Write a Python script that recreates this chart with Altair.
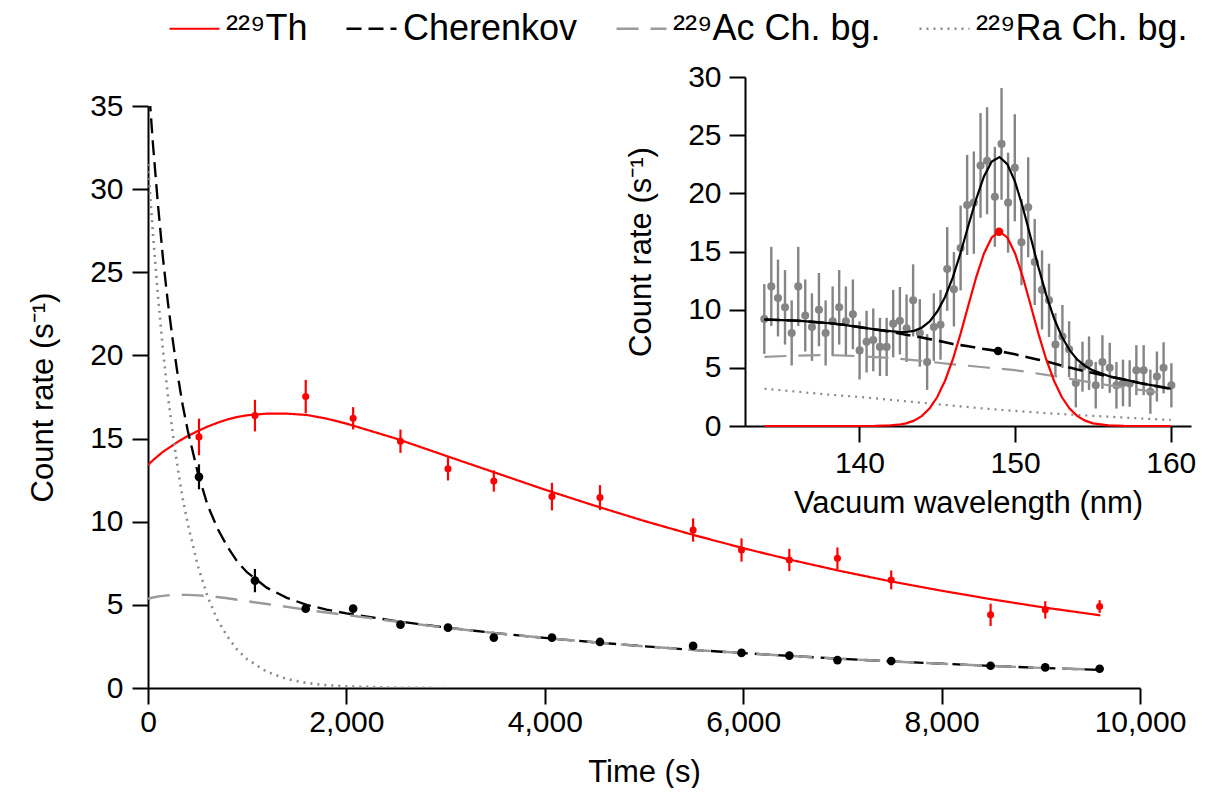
import altair as alt
import pandas as pd

# ---------------- main panel: fitted curves ----------------
T_CURVE = [0, 50, 100, 150, 200, 250, 300, 350, 400, 500, 600, 700, 800, 900, 1000,
           1200, 1400, 1600, 1800, 2000, 2500, 3000, 3500, 4000, 4500, 5000, 5500,
           6000, 6500, 7000, 7500, 8000, 8500, 9000, 9600]
TH_FIT = [13.4, 13.7, 13.95, 14.2, 14.4, 14.6, 14.8, 14.98, 15.15, 15.45, 15.72, 15.95,
          16.15, 16.3, 16.4, 16.5, 16.5, 16.42, 16.2, 15.9, 15.0, 13.97, 12.95, 11.93,
          10.97, 10.05, 9.2, 8.41, 7.68, 7.01, 6.4, 5.85, 5.34, 4.87, 4.37]
CH_FIT = [36.9, 32.7, 29.1, 25.9, 23.2, 20.9, 18.8, 17.0, 15.5, 13.0, 11.0, 9.6, 8.5,
          7.6, 6.95, 6.02, 5.42, 5.0, 4.71, 4.49, 4.02, 3.64, 3.3, 3.01, 2.75, 2.51, 2.29,
          2.1, 1.92, 1.75, 1.6, 1.46, 1.33, 1.21, 1.09]
AC_FIT = [5.37, 5.44, 5.5, 5.54, 5.57, 5.59, 5.6, 5.6, 5.6, 5.57, 5.53, 5.47, 5.4, 5.31,
          5.22, 5.05, 4.88, 4.7, 4.54, 4.39, 4.0, 3.63, 3.3, 3.01, 2.75, 2.51, 2.29, 2.1,
          1.92, 1.75, 1.6, 1.46, 1.33, 1.21, 1.09]
T_RA = [0, 50, 100, 150, 200, 250, 300, 350, 400, 500, 600, 700, 800, 900, 1000, 1200,
        1400, 1600, 1800, 2000, 2500, 3000]
RA_FIT = [31.5, 27.3, 23.6, 20.4, 17.6, 15.3, 13.2, 11.4, 9.9, 7.4, 5.5, 4.1, 3.1, 2.3,
          1.73, 0.97, 0.54, 0.3, 0.17, 0.1, 0.02, 0.0]

# ---------------- main panel: measured points ----------------
T_PTS = [514, 1078, 1590, 2068, 2545, 3024, 3486, 4072, 4556, 5495, 5983, 6465, 6950,
         7492, 8494, 9045, 9593]
TH_PTS = [15.1, 16.38, 17.53, 16.22, 14.84, 13.18, 12.45, 11.51, 11.45, 9.5, 8.3, 7.7,
          7.8, 6.5, 4.4, 4.7, 4.9]
TH_ERR = [1.1, 0.95, 1.0, 0.67, 0.7, 0.7, 0.64, 0.83, 0.75, 0.7, 0.7, 0.67, 0.65, 0.57,
          0.67, 0.52, 0.38]
CH_PTS = [12.7, 6.46, 4.77, 4.77, 3.81, 3.63, 3.03, 3.03, 2.77, 2.53, 2.11, 1.95, 1.68,
          1.62, 1.34, 1.24, 1.16]
CH_ERR = [0.75, 0.7, 0.15, 0.15, 0.15, 0.15, 0.12, 0.12, 0.12, 0.12, 0.1, 0.1, 0.1, 0.1,
          0.1, 0.1, 0.1]

SERIES = ["²²⁹Th", "Cherenkov", "²²⁹Ac Ch. bg.", "²²⁹Ra Ch. bg."]
COLORS = ["#ff0000", "#000000", "#9a9a9a", "#8a8a8a"]
DASHES = [[1, 0], [15, 7], [22, 12], [2, 5]]
WIDTHS = [2.2, 2.6, 2.2, 2.2]
X_TICKS = [0, 2000, 4000, 6000, 8000, 10000]
Y_TICKS = [0, 5, 10, 15, 20, 25, 30, 35]

# ---------------- inset: spectrum ----------------
W_PTS = [133.89, 134.34, 134.77, 135.22, 135.65, 136.07, 136.52, 136.95, 137.40, 137.83,
         138.28, 138.70, 139.13, 139.58, 140.01, 140.46, 140.89, 141.32, 141.75, 142.17,
         142.60, 143.03, 143.45, 143.88, 144.35, 144.78, 145.21, 145.64, 146.07, 146.50,
         146.92, 147.35, 147.78, 148.20, 148.70, 149.13, 149.55, 149.98, 150.41, 150.84,
         151.26, 151.73, 152.18, 152.59, 153.04, 153.47, 153.90, 154.33, 154.75, 155.18,
         155.61, 156.08, 156.51, 156.93, 157.36, 157.79, 158.26, 158.69, 159.11, 159.54,
         160.04]
S_PTS = [9.2, 12.0, 11.0, 10.2, 8.0, 12.0, 9.5, 8.5, 10.0, 8.0,
         9.0, 10.2, 9.0, 9.6, 6.5, 7.25, 7.4, 6.8, 6.8, 8.8,
         9.05, 8.4, 10.8, 8.0, 5.5, 8.5, 8.7, 13.5, 11.75, 15.3,
         19.0, 19.2, 22.4, 22.8, 19.7, 24.25, 19.2, 22.2, 15.8, 18.8,
         14.1, 11.7, 10.8, 7.0, 7.7, 6.6, 3.7, 5.1, 5.4, 3.5,
         5.5, 5.0, 3.5, 3.7, 3.65, 4.8, 4.8, 2.95, 4.25, 5.0, 3.5]
S_ERR = [3.0, 3.4, 3.3, 3.2, 2.8, 3.4, 3.1, 2.9, 3.15, 2.8,
         3.0, 3.2, 3.0, 3.0, 2.5, 2.65, 2.7, 2.5, 2.5, 2.9,
         2.9, 2.9, 3.1, 2.9, 2.4, 2.9, 3.0, 3.6, 3.2, 3.65,
         4.3, 4.4, 4.5, 4.6, 4.3, 4.8, 4.3, 4.6, 3.7, 4.3,
         3.7, 3.4, 3.15, 2.7, 2.7, 2.4, 2.1, 2.15, 2.3, 2.0,
         2.3, 2.15, 2.0, 2.0, 2.0, 2.15, 2.15, 1.9, 2.15, 2.2, 1.9]

W_FIT = [133.9, 135, 136, 137, 138, 139, 140, 141, 142, 142.5, 143, 143.5, 144, 144.5,
         145, 145.5, 146, 146.5, 147, 147.5, 148, 148.5, 149, 149.5, 150, 150.5, 151,
         151.5, 152, 152.5, 153, 153.5, 154, 154.5, 155, 156, 157, 158, 159, 160]
TH_LINE = [0, 0, 0, 0, 0, 0, 0, 0.01, 0.05, 0.11, 0.23, 0.46, 0.85, 1.5, 2.49, 3.89,
           5.72, 7.94, 10.38, 12.78, 14.83, 16.21, 16.7, 16.21, 14.83, 12.78, 10.38,
           7.94, 5.72, 3.89, 2.49, 1.5, 0.85, 0.46, 0.23, 0.05, 0.01, 0, 0, 0]
BG_LINE = [9.15, 9.1, 9.05, 8.95, 8.85, 8.7, 8.5, 8.3, 8.1, 7.98, 7.85, 7.72, 7.6, 7.47,
           7.35, 7.2, 7.05, 6.95, 6.85, 6.73, 6.62, 6.52, 6.42, 6.3, 6.16, 6.0, 5.85,
           5.7, 5.55, 5.37, 5.2, 5.02, 4.85, 4.7, 4.55, 4.25, 4.0, 3.7, 3.45, 3.2]
TOT_LINE = [9.15, 9.1, 9.05, 8.95, 8.85, 8.7, 8.5, 8.31, 8.15, 8.09, 8.08, 8.18, 8.45,
            8.97, 9.84, 11.09, 12.77, 14.89, 17.23, 19.51, 21.45, 22.73, 23.12, 22.51,
            20.99, 18.78, 16.23, 13.64, 11.27, 9.26, 7.69, 6.52, 5.7, 5.16, 4.78, 4.3,
            4.01, 3.7, 3.45, 3.2]
W_BG = [133.9, 136, 138, 140, 142, 144, 146, 148, 150, 152, 154, 156, 158, 160]
AC_LINE = [5.95, 6.05, 6.1, 6.0, 5.85, 5.6, 5.3, 5.05, 4.8, 4.4, 3.95, 3.5, 3.1, 2.75]
RA_LINE = [3.2, 2.95, 2.7, 2.5, 2.25, 2.0, 1.75, 1.5, 1.3, 1.1, 0.95, 0.8, 0.65, 0.52]
PEAK_W = [148.97]
PEAK_TH = [16.7]
PEAK_W_BG = [148.91]
PEAK_BG = [6.45]

FONT = "Liberation Sans"

# ---------------- tables ----------------
rows = []
for name, ts, vs in [(SERIES[0], T_CURVE, TH_FIT), (SERIES[1], T_CURVE, CH_FIT),
                     (SERIES[2], T_CURVE, AC_FIT), (SERIES[3], T_RA, RA_FIT)]:
    for t, v in zip(ts, vs):
        rows.append({"t": t, "v": v, "series": name})
main_lines = pd.DataFrame(rows)

th_pts = pd.DataFrame({"t": T_PTS, "v": TH_PTS,
                       "lo": [a - b for a, b in zip(TH_PTS, TH_ERR)],
                       "hi": [a + b for a, b in zip(TH_PTS, TH_ERR)]})
ch_pts = pd.DataFrame({"t": T_PTS, "v": CH_PTS,
                       "lo": [a - b for a, b in zip(CH_PTS, CH_ERR)],
                       "hi": [a + b for a, b in zip(CH_PTS, CH_ERR)]})

spec_pts = pd.DataFrame({"w": W_PTS, "v": S_PTS,
                         "lo": [a - b for a, b in zip(S_PTS, S_ERR)],
                         "hi": [a + b for a, b in zip(S_PTS, S_ERR)]})
fit_df = pd.DataFrame({"w": W_FIT, "th": TH_LINE, "bg": BG_LINE, "tot": TOT_LINE})
bg_df = pd.DataFrame({"w": W_BG, "ac": AC_LINE, "ra": RA_LINE})
peak_th = pd.DataFrame({"w": PEAK_W, "v": PEAK_TH})
peak_bg = pd.DataFrame({"w": PEAK_W_BG, "v": PEAK_BG})

# ---------------- main encodings ----------------
PLOT_W, PLOT_H = 992, 582

x_main = alt.X("t:Q", scale=alt.Scale(domain=[0, 10000], nice=False, zero=False),
               axis=alt.Axis(values=X_TICKS, format=",.0f", title="Time (s)",
                             labelFlush=False, labelOverlap=False,
                             labelPadding=3, titlePadding=20))


def y_main(field):
    return alt.Y(f"{field}:Q", scale=alt.Scale(domain=[0, 35], nice=False),
                 axis=alt.Axis(values=Y_TICKS, title="Count rate (s⁻¹)",
                               labelPadding=9, titlePadding=30))


legend = alt.Legend(orient="none", legendX=20, legendY=-104, direction="horizontal",
                    title=None, symbolType="stroke", symbolSize=2500,
                    symbolStrokeWidth=2.2, labelFontSize=36, labelFont=FONT,
                    labelColor="black", labelLimit=500, columnPadding=33,
                    labelOffset=5)

lines = alt.Chart(main_lines).mark_line(clip=True).encode(
    x=x_main,
    y=y_main("v"),
    color=alt.Color("series:N", scale=alt.Scale(domain=SERIES, range=COLORS),
                    legend=legend),
    strokeDash=alt.StrokeDash("series:N", scale=alt.Scale(domain=SERIES, range=DASHES),
                              legend=legend),
    strokeWidth=alt.StrokeWidth("series:N", scale=alt.Scale(domain=SERIES, range=WIDTHS),
                                legend=None),
    order="t:Q",
)

th_err = alt.Chart(th_pts).mark_rule(color="#ff0000", strokeWidth=2.2).encode(
    x=x_main, y=y_main("lo"), y2="hi:Q")
th_dot = alt.Chart(th_pts).mark_circle(color="#ff0000", opacity=1, size=50).encode(
    x=x_main, y=y_main("v"))
ch_err = alt.Chart(ch_pts).mark_rule(color="#000000", strokeWidth=2.2).encode(
    x=x_main, y=y_main("lo"), y2="hi:Q")
ch_dot = alt.Chart(ch_pts).mark_circle(color="#000000", opacity=1, size=75).encode(
    x=x_main, y=y_main("v"))

main = alt.layer(lines, th_err, ch_err, th_dot, ch_dot)

# ---------------- inset encodings ----------------
IN_X_RANGE = [597, 1043]
IN_Y_RANGE = [320, -29]

x_in = alt.X("w:Q", scale=alt.Scale(domain=[132.65, 161.3], range=IN_X_RANGE,
                                    nice=False, zero=False),
             axis=alt.Axis(orient="bottom", offset=IN_Y_RANGE[0] - PLOT_H,
                           values=[140, 150, 160], title="Vacuum wavelength (nm)",
                           labelFlush=False, labelOverlap=False,
                           labelPadding=6, titlePadding=10))


def y_in(field):
    return alt.Y(f"{field}:Q", scale=alt.Scale(domain=[0, 30], range=IN_Y_RANGE,
                                               nice=False),
                 axis=alt.Axis(orient="left", offset=-IN_X_RANGE[0],
                               values=[0, 5, 10, 15, 20, 25, 30],
                               title="Count rate (s⁻¹)", labelPadding=8,
                               titlePadding=30))


in_err = alt.Chart(spec_pts).mark_rule(color="#858585", strokeWidth=2.4).encode(
    x=x_in, y=y_in("lo"), y2="hi:Q")
in_dot = alt.Chart(spec_pts).mark_circle(color="#858585", opacity=1, size=65).encode(
    x=x_in, y=y_in("v"))
in_ra = alt.Chart(bg_df).mark_line(color="#8a8a8a", strokeWidth=2.2,
                                   strokeDash=[2, 5]).encode(x=x_in, y=y_in("ra"))
in_ac = alt.Chart(bg_df).mark_line(color="#9a9a9a", strokeWidth=2.2,
                                   strokeDash=[22, 12]).encode(x=x_in, y=y_in("ac"))
in_bg = alt.Chart(fit_df).mark_line(color="#000000", strokeWidth=2.6,
                                    strokeDash=[15, 7]).encode(x=x_in, y=y_in("bg"))
in_tot = alt.Chart(fit_df).mark_line(color="#000000", strokeWidth=2.2).encode(
    x=x_in, y=y_in("tot"))
in_th = alt.Chart(fit_df).mark_line(color="#ff0000", strokeWidth=2.2).encode(
    x=x_in, y=y_in("th"))
in_pk_th = alt.Chart(peak_th).mark_circle(color="#ff0000", opacity=1, size=75).encode(
    x=x_in, y=y_in("v"))
in_pk_bg = alt.Chart(peak_bg).mark_circle(color="#000000", opacity=1, size=75).encode(
    x=x_in, y=y_in("v"))

inset = alt.layer(in_err, in_dot, in_ra, in_ac, in_bg, in_tot, in_th, in_pk_th, in_pk_bg)

chart = alt.layer(main, inset).resolve_scale(
    x="independent", y="independent"
).properties(
    width=PLOT_W, height=PLOT_H,
    padding={"left": 140, "top": 98, "right": 62, "bottom": 100},
    autosize=alt.AutoSizeParams(type="none"),
).configure_view(stroke=None).configure_axis(
    grid=False, domainColor="black", domainWidth=2, tickColor="black", tickWidth=2,
    tickSize=16, labelFont=FONT, labelFontSize=30, labelColor="black",
    titleFont=FONT, titleFontSize=31, titleFontWeight="normal", titleColor="black",
)

chart.save("out.html", embed_options={"renderer": "svg", "actions": False})
